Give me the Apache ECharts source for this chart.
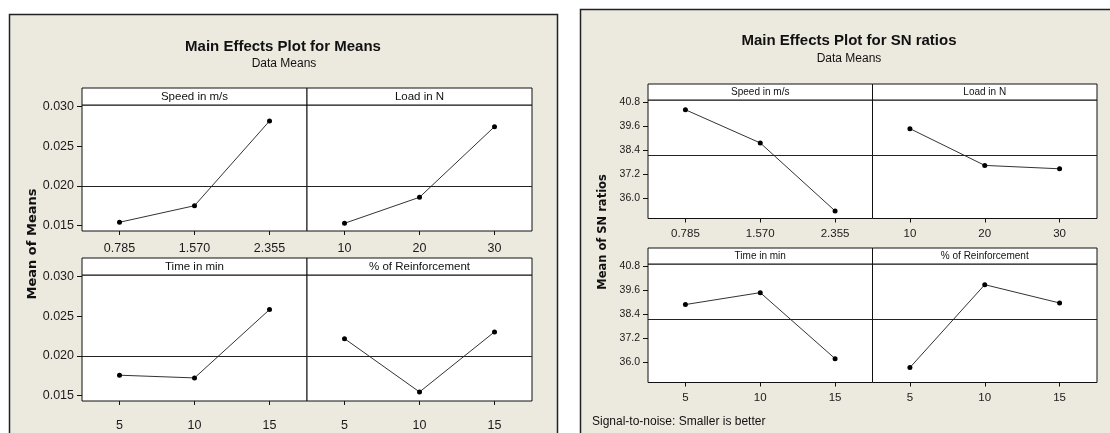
<!DOCTYPE html>
<html>
<head>
<meta charset="utf-8">
<script src="https://cdn.jsdelivr.net/npm/echarts@6.0.0/dist/echarts.min.js"></script>
<style>
html,body{margin:0;padding:0;background:#fff;}
#chart{width:1110px;height:433px;}
</style>
</head>
<body>
<div id="chart"></div>
<script>
// ---- data ----
const factorNames = ['Speed in m/s', 'Load in N', 'Time in min', '% of Reinforcement'];
const speedLevels = ['0.785', '1.570', '2.355'];
const loadLevels = ['10', '20', '30'];
const timeLevels = ['5', '10', '15'];
const reinfLevels = ['5', '10', '15'];

const meansSpeed = [0.01543, 0.01752, 0.02819];
const meansLoad  = [0.01530, 0.01858, 0.02748];
const meansTime  = [0.01758, 0.01724, 0.02585];
const meansReinf = [0.02219, 0.01547, 0.02304];

const snSpeed = [40.44, 38.77, 35.35];
const snLoad  = [39.49, 37.64, 37.47];
const snTime  = [38.89, 39.49, 36.17];
const snReinf = [35.72, 39.89, 38.97];

const meansTicks = [0.015, 0.020, 0.025, 0.030];
const snTicks = [36.0, 37.2, 38.4, 39.6, 40.8];
const meansGrand = 0.0203;
const snGrand = 38.17;

const meansTitle = 'Main Effects Plot for Means';
const snTitle = 'Main Effects Plot for SN ratios';
const subTitle = 'Data Means';
const meansYName = 'Mean of Means';
const snYName = 'Mean of SN ratios';
const snNote = 'Signal-to-noise: Smaller is better';

// ---- layout ----
const FONT = 'Liberation Sans';
const levelsList = [speedLevels, loadLevels, timeLevels, reinfLevels];
const meansList = [meansSpeed, meansLoad, meansTime, meansReinf];
const snList = [snSpeed, snLoad, snTime, snReinf];

const panels = [
  { // means
    cols: [82, 307], colW: [225, 225],
    rows: [105, 275], rowH: 126,
    hdr: [[88, 17], [258, 17]],
    yMin: 0.01433, yMax: 0.03021, ticks: meansTicks, dec: 3, grand: meansGrand,
    values: meansList, xFont: 12.5, yFont: 12.5, hdrFont: 11.5, xMargin: [11, 18]
  },
  { // SN
    cols: [648, 872.5], colW: [224.5, 224.5],
    rows: [100, 264], rowH: 118.5,
    hdr: [[84, 16], [248, 16]],
    yMin: 34.97, yMax: 40.93, ticks: snTicks, dec: 1, grand: snGrand,
    values: snList, xFont: 11.5, yFont: 10.5, hdrFont: 10, xMargin: [9, 9]
  }
];

const grids = [], xAxes = [], yAxes = [], series = [], graphics = [];

// panel backgrounds
graphics.push({type:'rect', z:-10, shape:{x:9.5, y:14.5, width:548, height:440},
  style:{fill:'#ECE9DF', stroke:'#222', lineWidth:1.5}});
graphics.push({type:'rect', z:-10, shape:{x:580.5, y:9.5, width:560, height:440},
  style:{fill:'#ECE9DF', stroke:'#222', lineWidth:1.5}});

let idx = 0;
panels.forEach((p, pi) => {
  for (let r = 0; r < 2; r++) {
    for (let c = 0; c < 2; c++) {
      const f = r * 2 + c;
      grids.push({left:p.cols[c], top:p.rows[r], width:p.colW[c], height:p.rowH,
        show:true, backgroundColor:'#fff', borderColor:'#111', borderWidth:1, containLabel:false});
      xAxes.push({type:'category', gridIndex:idx, data:levelsList[f], boundaryGap:true,
        axisLine:{show:false},
        axisTick:{show:true, alignWithLabel:true, length:4, lineStyle:{color:'#111'}},
        axisLabel:{color:'#1a1a1a', fontSize:p.xFont, fontFamily:FONT, margin:p.xMargin[r]},
        splitLine:{show:false}});
      yAxes.push({type:'value', gridIndex:idx, min:p.yMin, max:p.yMax, show:(c === 0),
        axisLine:{show:false},
        splitLine:{show:false},
        axisTick:{show:true, length:5, lineStyle:{color:'#111'}, customValues:p.ticks},
        axisLabel:{color:'#1a1a1a', fontSize:p.yFont, fontFamily:FONT, margin:8,
          customValues:p.ticks, formatter:(v) => Number(v).toFixed(p.dec)}});
      series.push({type:'line', xAxisIndex:idx, yAxisIndex:idx, data:p.values[f],
        symbol:'circle', symbolSize:5, showSymbol:true,
        itemStyle:{color:'#000'}, lineStyle:{color:'#333', width:1},
        animation:false, z:3,
        markLine:{silent:true, symbol:'none', animation:false,
          label:{show:false}, lineStyle:{color:'#222', width:1, type:'solid'},
          data:[{yAxis:p.grand}]}});
      // header strip
      const hx = p.cols[c], hw = p.colW[c], hy = p.hdr[r][0], hh = p.hdr[r][1];
      graphics.push({type:'rect', z:5, shape:{x:hx, y:hy, width:hw, height:hh},
        style:{fill:'#fff', stroke:'#111', lineWidth:1}});
      graphics.push({type:'text', z:6, x:hx + hw / 2, y:hy + hh / 2 + 0.5,
        style:{text:factorNames[f], font:p.hdrFont + 'px "' + FONT + '"', fill:'#111',
          align:'center', verticalAlign:'middle'}});
      idx++;
    }
  }
});

// titles
graphics.push({type:'text', z:6, x:283, y:47, style:{text:meansTitle,
  font:'bold 15px "' + FONT + '"', fill:'#111', align:'center', verticalAlign:'middle'}});
graphics.push({type:'text', z:6, x:284, y:64, style:{text:subTitle,
  font:'12px "' + FONT + '"', fill:'#111', align:'center', verticalAlign:'middle'}});
graphics.push({type:'text', z:6, x:849, y:41, style:{text:snTitle,
  font:'bold 15px "' + FONT + '"', fill:'#111', align:'center', verticalAlign:'middle'}});
graphics.push({type:'text', z:6, x:849, y:59, style:{text:subTitle,
  font:'12px "' + FONT + '"', fill:'#111', align:'center', verticalAlign:'middle'}});
// y-axis names
graphics.push({type:'text', z:6, x:33, y:244, rotation:Math.PI / 2, style:{text:meansYName,
  font:'bold 13px "DejaVu Sans"', fill:'#111', align:'center', verticalAlign:'middle'}});
graphics.push({type:'text', z:6, x:603, y:232, rotation:Math.PI / 2, style:{text:snYName,
  font:'bold 11.5px "DejaVu Sans"', fill:'#111', align:'center', verticalAlign:'middle'}});
// note
graphics.push({type:'text', z:6, x:592, y:422, style:{text:snNote,
  font:'12px "' + FONT + '"', fill:'#111', align:'left', verticalAlign:'middle'}});

const chart = echarts.init(document.getElementById('chart'), null, {renderer:'canvas'});
chart.setOption({
  backgroundColor:'#fff',
  animation:false,
  grid:grids, xAxis:xAxes, yAxis:yAxes, series:series, graphic:graphics
});
</script>
</body>
</html>
